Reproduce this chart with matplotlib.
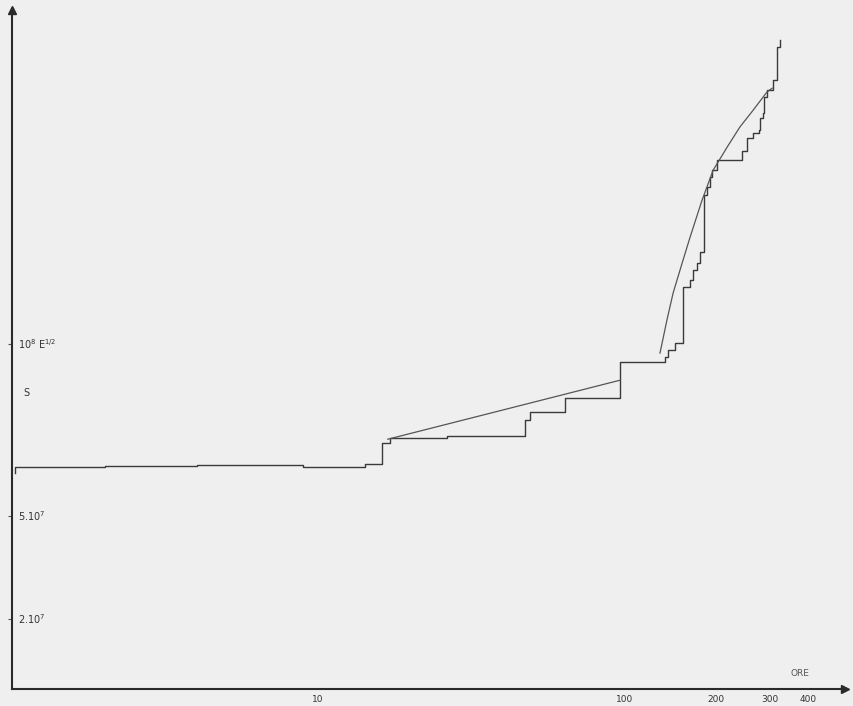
import matplotlib
matplotlib.use("Agg")
import matplotlib.pyplot as plt

# staircase (observed values), x in hours (log), y in units of 1e7
step_x = [1.02, 1.02, 2.01, 4.02, 8.9, 14.2, 16.2, 17.2, 26.4, 47.5, 49.3, 64.1,
          97.0, 136, 139, 147, 156, 164, 168, 173, 177, 183, 187, 191, 194, 201,
          243, 252, 264, 276, 278, 285, 287, 293, 307, 316, 324]
step_y = [6.24, 6.41, 6.44, 6.47, 6.41, 6.50, 7.11, 7.26, 7.32, 7.78, 8.02, 8.43,
          9.48, 9.62, 9.83, 10.03, 11.66, 11.87, 12.16, 12.36, 12.68, 14.34, 14.58,
          14.87, 15.07, 15.36, 15.62, 16.01, 16.15, 16.24, 16.59, 16.73, 17.20,
          17.41, 17.70, 18.66, 18.86]

# fitted lines
line_x = [16.9, 97.0]
line_y = [7.23, 8.95]
curve_x = [131, 138, 144.6, 154.7, 164.3, 179.8, 195.4, 217, 239, 264, 293, 304.6]
curve_y = [9.74, 10.70, 11.49, 12.36, 13.12, 14.20, 15.07, 15.74, 16.33, 16.82, 17.35, 17.46]

xticks = [10, 100, 200, 300, 400]
yticks = [2, 5, 10]
ytick_labels = [r"2.10$^7$", r"5.10$^7$", r"10$^8$ E$^{1/2}$"]

bg = "#efefef"
ink = "#3a3a3a"

fig = plt.figure(figsize=(8.54, 7.06), dpi=100, facecolor=bg)
ax = fig.add_axes([12 / 854, 17 / 706, 833 / 854, 679 / 706])
ax.set_facecolor(bg)

ax.plot(step_x, step_y, drawstyle="steps-post", color=ink, lw=1.0)
ax.plot(line_x, line_y, color="#555555", lw=0.9)
ax.plot(curve_x, curve_y, color="#555555", lw=0.9)

ax.set_xscale("log")
ax.set_xlim(1.0, 527)
ax.set_ylim(-0.05, 19.74)

for s in ["top", "right"]:
    ax.spines[s].set_visible(False)
for s in ["left", "bottom"]:
    ax.spines[s].set_color("#2a2a2a")
    ax.spines[s].set_linewidth(1.5)

# arrow heads
ax.plot([0], [1], marker="^", ms=6, color="#2a2a2a", transform=ax.transAxes, clip_on=False)
ax.plot([1], [0], marker=">", ms=6, color="#2a2a2a", transform=ax.transAxes, clip_on=False)

ax.set_xticks(xticks)
ax.set_xticklabels([str(t) for t in xticks], fontsize=6.5, color="#333333")
ax.xaxis.set_minor_locator(matplotlib.ticker.NullLocator())
ax.tick_params(axis="x", length=0, pad=4)

ax.set_yticks(yticks)
ax.set_yticklabels([])
ax.tick_params(axis="y", direction="out", length=3, width=0.8, color="#555555")
for y, lab in zip(yticks, ytick_labels):
    ax.text(0.007, y, lab, transform=ax.get_yaxis_transform(), fontsize=7,
            color="#333333", va="center", ha="left")
ax.text(0.014, 8.57, "S", transform=ax.get_yaxis_transform(), fontsize=7,
        color="#333333", va="center", ha="left")

ax.text(0.946, 0.016, "ORE", transform=ax.transAxes, fontsize=6.5,
        color="#555555", ha="center", va="bottom")

fig.savefig("out.png", dpi=100, facecolor=bg)
